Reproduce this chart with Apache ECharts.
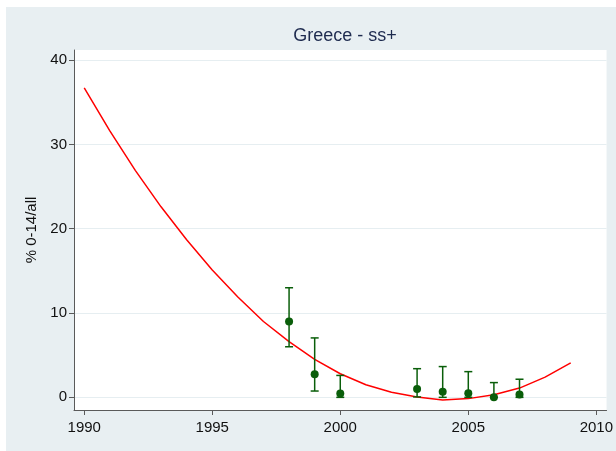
<!DOCTYPE html>
<html>
<head>
<meta charset="utf-8">
<script src="https://cdn.jsdelivr.net/npm/echarts@6/dist/echarts.min.js"></script>
<style>
  html, body { margin: 0; padding: 0; background: #fff; }
  #chart { position: absolute; left: 6px; top: 7px; width: 610px; height: 444px; }
</style>
</head>
<body>
<div id="chart"></div>
<script>
// observed points with their interval
const pointYears = [1998, 1999, 2000, 2003, 2004, 2005, 2006, 2007]
const pointValues = [9.0, 2.75, 0.45, 1.0, 0.65, 0.5, 0.0, 0.35]
const pointLower = [6.0, 0.75, 0.0, 0.05, 0.0, 0.0, 0.0, 0.0]
const pointUpper = [13.0, 7.05, 2.6, 3.4, 3.65, 3.05, 1.75, 2.15]

// fitted curve
const fitYears = [1990, 1991, 1992, 1993, 1994, 1995, 1996, 1997, 1998, 1999,
  2000, 2001, 2002, 2003, 2004, 2005, 2006, 2007, 2008, 2009]
const fitValues = [36.7, 31.6, 26.9, 22.6, 18.7, 15.1, 11.9, 9.0, 6.6, 4.5,
  2.8, 1.5, 0.6, 0.05, -0.3, -0.15, 0.3, 1.1, 2.4, 4.1]

const xTicks = [1990, 1995, 2000, 2005, 2010]
const yTicks = [0, 10, 20, 30, 40]

const axisColor = '#5a5a5a'
const green = '#0a5e0a'

const chart = echarts.init(document.getElementById('chart'))

chart.setOption({
  backgroundColor: '#e8eff2',
  animation: false,
  title: {
    text: 'Greece - ss+',
    left: 334,
    top: 15,
    textAlign: 'center',
    textStyle: {
      fontFamily: 'Liberation Sans',
      fontWeight: 'normal',
      fontSize: 18,
      color: '#1e2b4f'
    }
  },
  grid: {
    left: 68,
    top: 43,
    right: 9,
    bottom: 41,
    show: true,
    backgroundColor: '#fff',
    borderWidth: 0
  },
  xAxis: {
    type: 'value',
    min: 1989.6,
    max: 2010.4,
    axisLine: { onZero: false, lineStyle: { color: axisColor, width: 1 } },
    axisTick: { customValues: xTicks, length: 5, lineStyle: { color: axisColor } },
    axisLabel: {
      customValues: xTicks,
      formatter: v => String(v),
      margin: 10,
      color: '#111',
      fontSize: 15,
      fontFamily: 'Liberation Sans'
    },
    splitLine: { show: false }
  },
  yAxis: {
    type: 'value',
    min: -1.5,
    max: 41.2,
    name: '% 0-14/all',
    nameLocation: 'middle',
    nameRotate: 90,
    nameGap: 33,
    nameTextStyle: { color: '#111', fontSize: 15, fontFamily: 'Liberation Sans' },
    axisLine: { onZero: false, lineStyle: { color: axisColor, width: 1 } },
    axisTick: { customValues: yTicks, length: 5, lineStyle: { color: axisColor } },
    axisLabel: {
      customValues: yTicks,
      margin: 7,
      color: '#111',
      fontSize: 15,
      fontFamily: 'Liberation Sans'
    },
    splitLine: { show: true, lineStyle: { color: '#e6eef1', width: 1.2 } }
  },
  series: [
    {
      type: 'line',
      data: fitYears.map((x, i) => [x, fitValues[i]]),
      showSymbol: false,
      smooth: false,
      lineStyle: { color: '#ff0000', width: 1.5 },
      z: 2
    },
    {
      type: 'custom',
      data: pointYears.map((x, i) => [x, pointLower[i], pointUpper[i]]),
      renderItem: function (params, api) {
        const lo = api.coord([api.value(0), api.value(1)])
        const hi = api.coord([api.value(0), api.value(2)])
        const w = 4
        const style = { stroke: green, lineWidth: 1.5, fill: null }
        return {
          type: 'group',
          children: [
            { type: 'line', shape: { x1: lo[0], y1: lo[1], x2: hi[0], y2: hi[1] }, style: style },
            { type: 'line', shape: { x1: lo[0] - w, y1: lo[1], x2: lo[0] + w, y2: lo[1] }, style: style },
            { type: 'line', shape: { x1: hi[0] - w, y1: hi[1], x2: hi[0] + w, y2: hi[1] }, style: style }
          ]
        }
      },
      z: 3
    },
    {
      type: 'scatter',
      data: pointYears.map((x, i) => [x, pointValues[i]]),
      symbol: 'circle',
      symbolSize: 8,
      itemStyle: { color: green, opacity: 1 },
      z: 4
    }
  ]
})
</script>
</body>
</html>
